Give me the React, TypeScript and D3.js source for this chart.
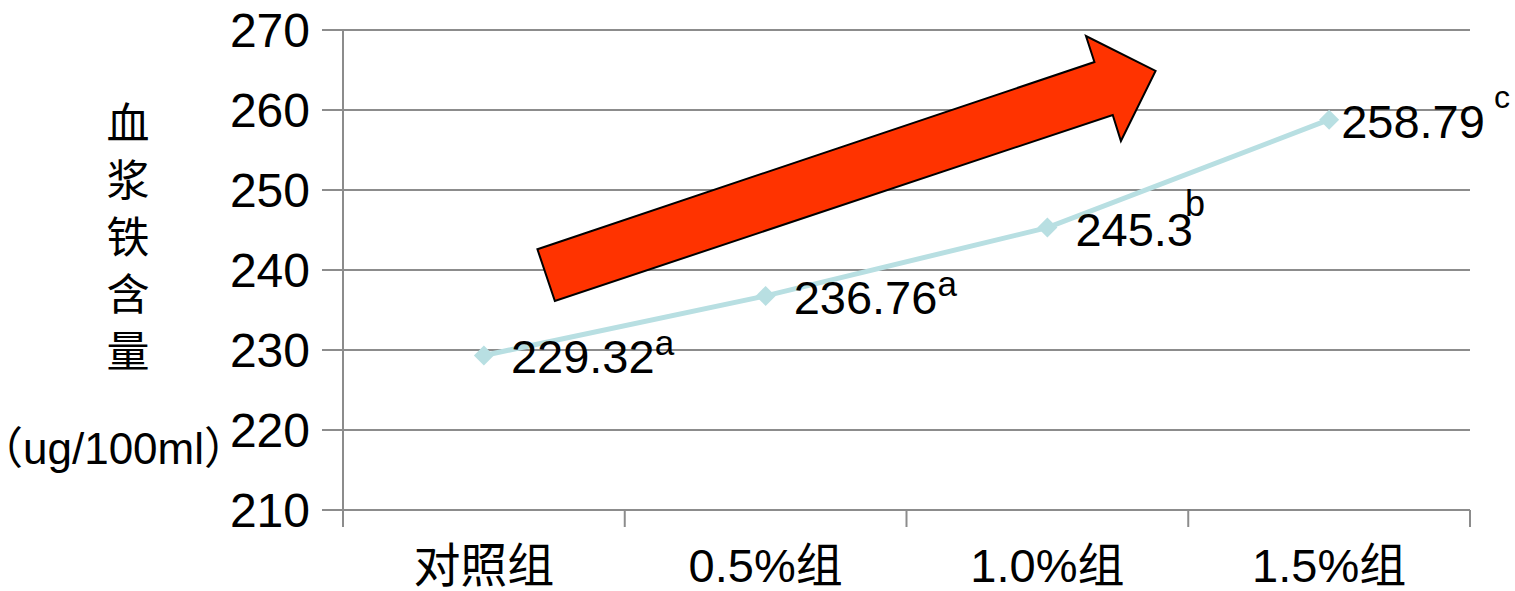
import React from 'react';
import * as d3 from 'd3';

// Plasma iron content by treatment group
const categories = ['对照组', '0.5%组', '1.0%组', '1.5%组'];
const ironValues = [229.32, 236.76, 245.3, 258.79];
const sigLetters = ['a', 'a', 'b', 'c'];
const yTickValues = [210, 220, 230, 240, 250, 260, 270];
const yTitleChars = ['血', '浆', '铁', '含', '量'];
const yUnit = '（ug/100ml）';

// Block arrow showing the upward trend, in (category position, value) units
const trendArrow: [number, number][] = [
  [0.69, 242.6],
  [2.667, 266.0],
  [2.637, 269.25],
  [2.884, 264.88],
  [2.761, 256.13],
  [2.732, 259.38],
  [0.752, 236.13],
];

const W = 1515;
const H = 591;
const plot = { left: 343, right: 1470, top: 30, bottom: 510 };

// label offsets relative to each marker; superscript shifts relative to the label end
const labelDx = [27, 28, 28, 12];
const supShift: [number, number][] = [
  [0, -18],
  [0, -18],
  [-8, -30],
  [9, -30],
];
const supSize = [35, 35, 36, 32];

const LATIN = "'Liberation Sans', Arial, 'Noto Sans CJK SC', sans-serif";
const CJK = "'Noto Sans CJK SC', sans-serif";

export default function App() {
  const x = d3.scaleBand<string>().domain(categories).range([plot.left, plot.right]);
  const y = d3.scaleLinear().domain([210, 270]).range([plot.bottom, plot.top]);
  const xPos = d3.scaleLinear().domain([0, categories.length]).range([plot.left, plot.right]);
  const cx = (c: string) => (x(c) as number) + x.bandwidth() / 2;

  const pts = categories.map((c, i) => [cx(c), y(ironValues[i])] as [number, number]);
  const line = d3.line()(pts) as string;
  const arrowPath = d3.line()(trendArrow.map(([p, v]) => [xPos(p), y(v)] as [number, number])) + 'Z';

  const bandEdges = categories.map((c) => x(c) as number).concat([plot.right]);
  const gridColor = '#8c8c8c';
  const m = 10;

  return (
    <div style={{ position: 'absolute', left: 0, top: 0 }}>
      <svg width={W} height={H} style={{ display: 'block', background: '#fff' }}>
        {/* horizontal gridlines with left tick stubs */}
        {yTickValues.map((t) => (
          <line key={t} x1={plot.left - 21} x2={plot.right} y1={y(t)} y2={y(t)} stroke={gridColor} strokeWidth={2} />
        ))}
        {/* value axis */}
        <line x1={plot.left} x2={plot.left} y1={plot.top} y2={plot.bottom + 17} stroke={gridColor} strokeWidth={2} />
        {/* category ticks */}
        {bandEdges.map((e, i) => (
          <line key={i} x1={e} x2={e} y1={plot.bottom} y2={plot.bottom + 17} stroke={gridColor} strokeWidth={2} />
        ))}
        {/* y tick labels */}
        {yTickValues.map((t) => (
          <text key={t} x={310} y={y(t) + 17} textAnchor="end" fontFamily={LATIN} fontSize={48} fill="#000">
            {t}
          </text>
        ))}
        {/* y axis title */}
        {yTitleChars.map((ch, i) => (
          <text key={ch} x={128} y={139 + i * 57} textAnchor="middle" fontFamily={CJK} fontSize={43} fill="#000">
            {ch}
          </text>
        ))}
        <text x={-21} y={464} fontFamily={LATIN} fontSize={44} fill="#000">
          {yUnit}
        </text>
        {/* category labels */}
        {categories.map((c) => (
          <text key={c} x={cx(c)} y={582} textAnchor="middle" fontFamily={LATIN} fontSize={47} fill="#000">
            {c}
          </text>
        ))}
        {/* trend arrow */}
        <path d={arrowPath} fill="#ff3300" stroke="#000" strokeWidth={2} strokeLinejoin="miter" />
        {/* data line and markers */}
        <path d={line} fill="none" stroke="#b8dfe2" strokeWidth={5} />
        {pts.map(([px, py], i) => (
          <path key={i} d={`M${px},${py - m}L${px + m},${py}L${px},${py + m}L${px - m},${py}Z`} fill="#b8dfe2" />
        ))}
        {/* value labels with significance letters */}
        {pts.map(([px, py], i) => (
          <text key={i} x={px + labelDx[i]} y={py + 18} fontFamily={LATIN} fontSize={47} fill="#000">
            {String(ironValues[i])}
            <tspan dx={supShift[i][0]} dy={supShift[i][1]} fontSize={supSize[i]}>
              {sigLetters[i]}
            </tspan>
          </text>
        ))}
      </svg>
    </div>
  );
}
